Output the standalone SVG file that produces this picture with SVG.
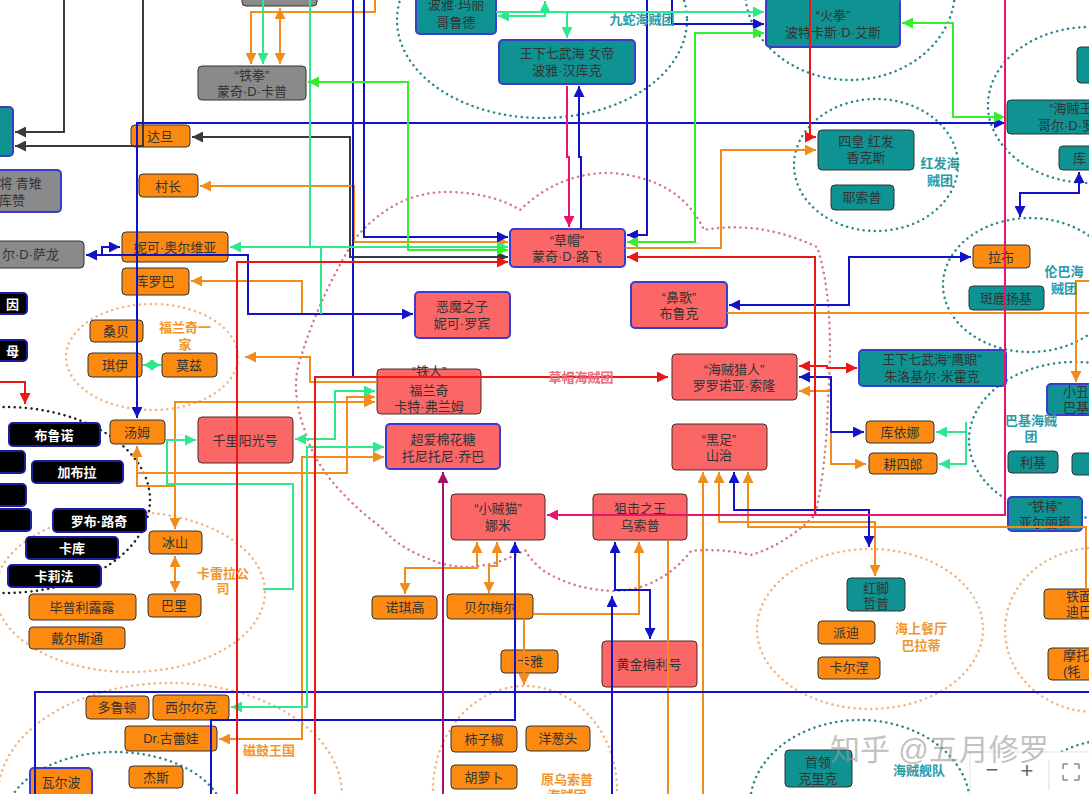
<svg xmlns="http://www.w3.org/2000/svg" width="1089" height="794" viewBox="0 0 1089 794">
<defs>
<style>
text{font-family:"Liberation Sans","Noto Sans CJK SC",sans-serif;font-size:13px;fill:#333;text-anchor:middle}
.w{fill:#fff;font-weight:bold}
.lb{font-weight:bold}
.lt{fill:#2a9aa8;font-weight:bold}
.lo{fill:#f0962e;font-weight:bold}
.lp{fill:#e8707a;font-weight:bold}
.s{fill:#fb6767;stroke:#4a2a2a;stroke-width:1}
.sb{fill:#fb6767;stroke:#3b3bd0;stroke-width:2}
.t{fill:#0f9292;stroke:#333;stroke-width:1}
.tb{fill:#0f9292;stroke:#3b3bd0;stroke-width:2}
.o{fill:#fd8a10;stroke:#333;stroke-width:1}
.ob{fill:#fd8a10;stroke:#3b3bd0;stroke-width:2}
.g{fill:#8a8a8a;stroke:#333;stroke-width:1}
.gb{fill:#8a8a8a;stroke:#3b3bd0;stroke-width:2}
.k{fill:#000;stroke:#1c1ca0;stroke-width:2}
.c{fill:none;stroke-width:2}
.cb{stroke:#1212c8}.co{stroke:#f28c1c}.cg{stroke:#2de88c}.cl{stroke:#35ee2a}.cr{stroke:#ee1515}.cd{stroke:#3a3a3a}.cp{stroke:#e8146e}.cu{stroke:#a3106c}
.e{fill:none;stroke-width:2.5;stroke-dasharray:0.1 5.5;stroke-linecap:round}
.et{stroke:#2b8890}.eo{stroke:#f0b483}.er{stroke:#d87880}.ek{stroke:#222}
</style>
<marker id="ab" viewBox="0 0 10 10" refX="10" refY="5" markerWidth="11" markerHeight="11" markerUnits="userSpaceOnUse" orient="auto-start-reverse"><path d="M0,0L10,5L0,10z" fill="#1212c8"/></marker>
<marker id="ao" viewBox="0 0 10 10" refX="10" refY="5" markerWidth="11" markerHeight="11" markerUnits="userSpaceOnUse" orient="auto-start-reverse"><path d="M0,0L10,5L0,10z" fill="#f28c1c"/></marker>
<marker id="ag" viewBox="0 0 10 10" refX="10" refY="5" markerWidth="11" markerHeight="11" markerUnits="userSpaceOnUse" orient="auto-start-reverse"><path d="M0,0L10,5L0,10z" fill="#2de88c"/></marker>
<marker id="al" viewBox="0 0 10 10" refX="10" refY="5" markerWidth="11" markerHeight="11" markerUnits="userSpaceOnUse" orient="auto-start-reverse"><path d="M0,0L10,5L0,10z" fill="#35ee2a"/></marker>
<marker id="ar" viewBox="0 0 10 10" refX="10" refY="5" markerWidth="11" markerHeight="11" markerUnits="userSpaceOnUse" orient="auto-start-reverse"><path d="M0,0L10,5L0,10z" fill="#ee1515"/></marker>
<marker id="ad" viewBox="0 0 10 10" refX="10" refY="5" markerWidth="11" markerHeight="11" markerUnits="userSpaceOnUse" orient="auto-start-reverse"><path d="M0,0L10,5L0,10z" fill="#3a3a3a"/></marker>
<marker id="ap" viewBox="0 0 10 10" refX="10" refY="5" markerWidth="11" markerHeight="11" markerUnits="userSpaceOnUse" orient="auto-start-reverse"><path d="M0,0L10,5L0,10z" fill="#e8146e"/></marker>
<marker id="au" viewBox="0 0 10 10" refX="10" refY="5" markerWidth="11" markerHeight="11" markerUnits="userSpaceOnUse" orient="auto-start-reverse"><path d="M0,0L10,5L0,10z" fill="#a3106c"/></marker>
</defs>
<rect width="1089" height="794" fill="#fff"/>

<g id="clusters">
<ellipse class="e et" cx="542" cy="20" rx="145" ry="98"/>
<ellipse class="e et" cx="850" cy="-10" rx="105" ry="90"/>
<ellipse class="e et" cx="876" cy="165" rx="82" ry="66"/>
<ellipse class="e et" cx="1090" cy="105" rx="102" ry="78"/>
<ellipse class="e et" cx="1030" cy="285" rx="87" ry="67"/>
<ellipse class="e et" cx="1075" cy="440" rx="106" ry="78"/>
<ellipse class="e eo" cx="152" cy="357" rx="86" ry="53"/>
<ellipse class="e ek" cx="5" cy="500" rx="145" ry="93"/>
<ellipse class="e eo" cx="130" cy="592" rx="135" ry="80"/>
<ellipse class="e eo" cx="170" cy="795" rx="172" ry="112"/>
<ellipse class="e et" cx="115" cy="820" rx="110" ry="68"/>
<ellipse class="e eo" cx="525" cy="790" rx="92" ry="104"/>
<ellipse class="e eo" cx="870" cy="629" rx="113" ry="80"/>
<ellipse class="e eo" cx="1095" cy="630" rx="90" ry="82"/>
<ellipse class="e et" cx="860" cy="805" rx="110" ry="85"/>
<ellipse class="e et" cx="1110" cy="835" rx="100" ry="95"/>
<path class="e er" d="M354,240 Q395,190 452,192 Q495,194 520,210 Q560,172 611,173 Q680,178 704,230 Q760,220 817,247 Q835,300 828,400 Q826,470 815,515 Q785,545 751,555 Q720,548 691,551 Q660,590 614,591 Q575,590 544,571 Q532,562 525,550 Q480,575 440,563 Q400,550 382,528 Q318,480 305,431 Q290,390 300,360 Q318,300 354,240 Z"/>
</g>

<g id="nodes">
<g id="n-gtop"><rect class="g" x="242" y="-20" width="75" height="26" rx="4"/></g>
<g id="n-garp"><rect class="g" x="198" y="66" width="108" height="34" rx="4"/><text x="252" y="80">“铁拳”</text><text x="252" y="96">蒙奇·D·卡普</text></g>
<g id="n-aokiji"><rect class="gb" x="-40" y="170" width="101" height="42" rx="4"/><text x="14" y="188">大将 青雉</text><text x="12" y="205">库赞</text></g>
<g id="n-salon"><rect class="g" x="-30" y="241" width="114" height="27" rx="4"/><text x="59" y="259" style="text-anchor:end">尔·D·萨龙</text></g>
<g id="n-tleft"><rect class="tb" x="-20" y="107" width="33" height="49" rx="4"/></g>
<g id="n-marigold"><rect class="tb" x="416" y="-12" width="80" height="46" rx="4"/><text x="456" y="9">波雅·玛丽</text><text x="456" y="27">哥鲁德</text></g>
<g id="n-hancock"><rect class="tb" x="499" y="40" width="136" height="44" rx="4"/><text x="567" y="58">王下七武海 女帝</text><text x="567" y="75">波雅·汉库克</text></g>
<g id="n-ace"><rect class="tb" x="766" y="-2" width="134" height="49" rx="4"/><text x="833" y="20">“火拳”</text><text x="833" y="37">波特卡斯·D·艾斯</text></g>
<g id="n-shanks"><rect class="t" x="818" y="130" width="96" height="40" rx="4"/><text x="866" y="146">四皇 红发</text><text x="866" y="162">香克斯</text></g>
<g id="n-yasopp"><rect class="t" x="831" y="185" width="63" height="25" rx="4"/><text x="862" y="202">耶索普</text></g>
<g id="n-roger"><rect class="t" x="1007" y="100" width="100" height="34" rx="4"/><text x="1073" y="113">“海贼王”</text><text x="1073" y="130">哥尔·D·罗杰</text></g>
<g id="n-ttop"><rect class="t" x="1077" y="47" width="30" height="36" rx="4"/></g>
<g id="n-ku"><rect class="t" x="1059" y="146" width="40" height="24" rx="4"/><text x="1073" y="163" style="text-anchor:start">库</text></g>
<g id="n-yankee"><rect class="t" x="969" y="286" width="75" height="24" rx="4"/><text x="1006" y="303">斑鹿扬基</text></g>
<g id="n-mihawk"><rect class="tb" x="859" y="350" width="147" height="36" rx="4"/><text x="932" y="364">王下七武海“鹰眼”</text><text x="932" y="381">朱洛基尔·米霍克</text></g>
<g id="n-buggy"><rect class="tb" x="1047" y="384" width="60" height="31" rx="4"/><text x="1063" y="396" style="text-anchor:start">小丑</text><text x="1063" y="412" style="text-anchor:start">巴基</text></g>
<g id="n-ricchi"><rect class="t" x="1008" y="451" width="50" height="22" rx="4"/><text x="1033" y="467">利基</text></g>
<g id="n-tr2"><rect class="t" x="1072" y="453" width="30" height="22" rx="4"/></g>
<g id="n-alvida"><rect class="tb" x="1008" y="497" width="74" height="34" rx="4"/><text x="1045" y="511">“铁棒”</text><text x="1045" y="527">亚尔丽塔</text></g>
<g id="n-zeff"><rect class="t" x="847" y="578" width="58" height="33" rx="4"/><text x="876" y="593">红脚</text><text x="876" y="608">哲普</text></g>
<g id="n-krieg"><rect class="t" x="785" y="750" width="67" height="37" rx="4"/><text x="818" y="767">首领</text><text x="818" y="783">克里克</text></g>

<g id="n-dadan"><rect class="o" x="131" y="125" width="59" height="22" rx="4"/><text x="160" y="141">达旦</text></g>
<g id="n-chief"><rect class="o" x="139" y="174" width="59" height="23" rx="4"/><text x="168" y="191">村长</text></g>
<g id="n-olvia"><rect class="o" x="122" y="232" width="106" height="30" rx="4"/><text x="175" y="252">妮可·奥尔维亚</text></g>
<g id="n-kokoro"><rect class="o" x="122" y="268" width="67" height="27" rx="4"/><text x="155" y="286">库罗巴</text></g>
<g id="n-zambai"><rect class="o" x="90" y="320" width="53" height="22" rx="4"/><text x="116" y="336">桑贝</text></g>
<g id="n-kiwi"><rect class="o" x="88" y="353" width="54" height="24" rx="4"/><text x="115" y="370">琪伊</text></g>
<g id="n-mozu"><rect class="o" x="162" y="353" width="55" height="24" rx="4"/><text x="189" y="370">莫兹</text></g>
<g id="n-tom"><rect class="o" x="110" y="420" width="55" height="24" rx="4"/><text x="137" y="437">汤姆</text></g>
<g id="n-iceburg"><rect class="o" x="149" y="531" width="53" height="23" rx="4"/><text x="175" y="547">冰山</text></g>
<g id="n-paulie"><rect class="o" x="148" y="594" width="53" height="23" rx="4"/><text x="174" y="610">巴里</text></g>
<g id="n-lulu"><rect class="o" x="29" y="594" width="107" height="26" rx="4"/><text x="82" y="612">毕普利露露</text></g>
<g id="n-tilestone"><rect class="o" x="29" y="627" width="96" height="22" rx="4"/><text x="77" y="643">戴尔斯通</text></g>
<g id="n-dalton"><rect class="o" x="86" y="696" width="63" height="23" rx="4"/><text x="117" y="712">多鲁顿</text></g>
<g id="n-hiluluk"><rect class="o" x="153" y="695" width="76" height="25" rx="4"/><text x="191" y="712">西尔尔克</text></g>
<g id="n-kureha"><rect class="o" x="125" y="726" width="92" height="25" rx="4"/><text x="171" y="743">Dr.古蕾娃</text></g>
<g id="n-wapol"><rect class="ob" x="30" y="768" width="62" height="30" rx="4"/><text x="61" y="787">瓦尔波</text></g>
<g id="n-chess"><rect class="o" x="129" y="766" width="54" height="22" rx="4"/><text x="156" y="782">杰斯</text></g>
<g id="n-nojiko"><rect class="o" x="372" y="596" width="65" height="23" rx="4"/><text x="405" y="612">诺琪高</text></g>
<g id="n-bellemere"><rect class="o" x="447" y="594" width="86" height="25" rx="4"/><text x="490" y="612">贝尔梅尔</text></g>
<g id="n-kaya"><rect class="o" x="501" y="650" width="57" height="23" rx="4"/><text x="530" y="666">卡雅</text></g>
<g id="n-pepper"><rect class="o" x="451" y="726" width="66" height="26" rx="4"/><text x="484" y="744">柿子椒</text></g>
<g id="n-onion"><rect class="o" x="526" y="726" width="64" height="25" rx="4"/><text x="558" y="743">洋葱头</text></g>
<g id="n-carrot"><rect class="o" x="451" y="765" width="66" height="24" rx="4"/><text x="484" y="782">胡萝卜</text></g>
<g id="n-kuina"><rect class="o" x="866" y="421" width="68" height="22" rx="4"/><text x="900" y="437">库依娜</text></g>
<g id="n-koshiro"><rect class="o" x="869" y="453" width="68" height="21" rx="4"/><text x="903" y="469">耕四郎</text></g>
<g id="n-laboon"><rect class="o" x="973" y="245" width="57" height="23" rx="4"/><text x="1001" y="262">拉布</text></g>
<g id="n-patty"><rect class="o" x="818" y="621" width="57" height="23" rx="4"/><text x="846" y="637">派迪</text></g>
<g id="n-carne"><rect class="o" x="818" y="657" width="62" height="22" rx="4"/><text x="849" y="672">卡尔涅</text></g>
<g id="n-gin"><rect class="o" x="1044" y="589" width="60" height="30" rx="4"/><text x="1066" y="601" style="text-anchor:start">铁面</text><text x="1066" y="616" style="text-anchor:start">迪巴</text></g>
<g id="n-mohji"><rect class="o" x="1048" y="648" width="70" height="32" rx="4"/><text x="1063" y="660" style="text-anchor:start">摩托</text><text x="1063" y="676" style="text-anchor:start">(牦</text></g>

<g id="n-k1"><rect class="k" x="-20" y="293" width="47" height="21" rx="4"/><text class="w" x="19" y="309" style="text-anchor:end">因</text></g>
<g id="n-k2"><rect class="k" x="-20" y="340" width="47" height="21" rx="4"/><text class="w" x="19" y="356" style="text-anchor:end">母</text></g>
<g id="n-bruno"><rect class="k" x="9" y="423" width="91" height="23" rx="4"/><text class="w" x="54" y="440">布鲁诺</text></g>
<g id="n-k3"><rect class="k" x="-20" y="451" width="45" height="22" rx="4"/></g>
<g id="n-jabra"><rect class="k" x="32" y="461" width="91" height="22" rx="4"/><text class="w" x="77" y="477">加布拉</text></g>
<g id="n-k4"><rect class="k" x="-20" y="484" width="46" height="22" rx="4"/></g>
<g id="n-k5"><rect class="k" x="-20" y="509" width="51" height="22" rx="4"/></g>
<g id="n-lucci"><rect class="k" x="53" y="509" width="93" height="23" rx="4"/><text class="w" x="99" y="526">罗布·路奇</text></g>
<g id="n-kaku"><rect class="k" x="26" y="537" width="92" height="22" rx="4"/><text class="w" x="72" y="553">卡库</text></g>
<g id="n-kalifa"><rect class="k" x="8" y="565" width="93" height="22" rx="4"/><text class="w" x="54" y="581">卡莉法</text></g>

<g id="n-luffy"><rect class="sb" x="510" y="229" width="115" height="38" rx="4"/><text x="567" y="245">“草帽”</text><text x="567" y="261">蒙奇·D·路飞</text></g>
<g id="n-robin"><rect class="sb" x="415" y="292" width="95" height="46" rx="4"/><text x="462" y="311">恶魔之子</text><text x="462" y="328">妮可·罗宾</text></g>
<g id="n-franky"><rect class="s" x="377" y="369" width="104" height="45" rx="4"/><text x="429" y="376">“铁人”</text><text x="429" y="395">福兰奇</text><text x="429" y="411">卡特·弗兰姆</text></g>
<g id="n-chopper"><rect class="sb" x="386" y="424" width="114" height="45" rx="4"/><text x="443" y="444">超爱棉花糖</text><text x="443" y="461">托尼托尼·乔巴</text></g>
<g id="n-sunny"><rect class="s" x="198" y="417" width="95" height="46" rx="4"/><text x="245" y="445">千里阳光号</text></g>
<g id="n-nami"><rect class="s" x="451" y="494" width="94" height="46" rx="4"/><text x="498" y="513">“小贼猫”</text><text x="498" y="530">娜米</text></g>
<g id="n-usopp"><rect class="s" x="593" y="494" width="94" height="46" rx="4"/><text x="640" y="513">狙击之王</text><text x="640" y="530">乌索普</text></g>
<g id="n-brook"><rect class="sb" x="631" y="282" width="96" height="46" rx="4"/><text x="679" y="302">“鼻歌”</text><text x="679" y="318">布鲁克</text></g>
<g id="n-zoro"><rect class="s" x="672" y="354" width="125" height="46" rx="4"/><text x="734" y="374">“海贼猎人”</text><text x="734" y="390">罗罗诺亚·索隆</text></g>
<g id="n-sanji"><rect class="s" x="672" y="424" width="95" height="46" rx="4"/><text x="719" y="444">“黑足”</text><text x="719" y="460">山治</text></g>
<g id="n-merry"><rect class="s" x="602" y="641" width="95" height="46" rx="4"/><text x="649" y="669">黄金梅利号</text></g>
</g>

<g id="connectors">
<path class="c cd" d="M64,0V132H15" marker-end="url(#ad)"/>
<path class="c cd" d="M143,0V146H15" marker-end="url(#ad)"/>
<path class="c cd" d="M192,137H350V257H508" marker-start="url(#ad)" marker-end="url(#ad)"/>

<path class="c co" d="M375,0V12H251V64" marker-end="url(#ao)"/>
<path class="c co" d="M280,8V64" marker-start="url(#ao)" marker-end="url(#ao)"/>
<path class="c co" d="M200,186H354V242H508" marker-start="url(#ao)" marker-end="url(#ao)"/>
<path class="c co" d="M625,248H721V150H816" marker-end="url(#ao)"/>
<path class="c co" d="M191,281H302V314" marker-start="url(#ao)"/>
<path class="c co" d="M245,357H310V382H377" marker-start="url(#ao)"/>
<path class="c co" d="M137,446V486H175V402H375" marker-start="url(#ao)" marker-end="url(#ao)"/>
<path class="c co" d="M175,486V529" marker-end="url(#ao)"/>
<path class="c co" d="M137,473H347V397H375" marker-end="url(#ao)"/>
<path class="c co" d="M175,556V592" marker-start="url(#ao)" marker-end="url(#ao)"/>
<path class="c co" d="M384,457H302V739H219" marker-start="url(#ao)" marker-end="url(#ao)"/>
<path class="c co" d="M477,542V568H405V594" marker-start="url(#ao)" marker-end="url(#ao)"/>
<path class="c co" d="M497,542V566H489V593" marker-start="url(#ao)" marker-end="url(#ao)"/>
<path class="c co" d="M533,614H639V542" marker-end="url(#ao)"/>
<path class="c co" d="M524,619V685" marker-end="url(#ao)"/>
<path class="c co" d="M668,540V794"/>
<path class="c co" d="M703,472V794" marker-start="url(#ao)"/>
<path class="c co" d="M719,472V522H875V576" marker-start="url(#ao)" marker-end="url(#ao)"/>
<path class="c co" d="M748,472V527H1086V589" marker-start="url(#ao)"/>
<path class="c co" d="M727,313H1089"/>
<path class="c co" d="M1089,281H1076V382" marker-end="url(#ao)"/>
<path class="c co" d="M799,391H831V464H866" marker-start="url(#ao)" marker-end="url(#ao)"/>

<path class="c cb" d="M137,418V123H1005" marker-start="url(#ab)" marker-end="url(#ab)"/>
<path class="c cb" d="M364,0V237H508" marker-end="url(#ab)"/>
<path class="c cb" d="M353,0V377"/>
<path class="c cb" d="M86,255H248V314H413" marker-start="url(#ab)" marker-end="url(#ab)"/>
<path class="c cb" d="M102,255V247H120" marker-end="url(#ab)"/>
<path class="c cb" d="M581,229V157H579V86" marker-end="url(#ab)"/>
<path class="c cb" d="M647,0V235H627" marker-end="url(#ab)"/>
<path class="c cb" d="M672,0V24H764" marker-end="url(#ab)"/>
<path class="c cb" d="M729,305H849V257H971" marker-start="url(#ab)" marker-end="url(#ab)"/>
<path class="c cb" d="M1079,172V193H1020V217" marker-start="url(#ab)" marker-end="url(#ab)"/>
<path class="c cb" d="M799,377H831V432H864" marker-start="url(#ab)" marker-end="url(#ab)"/>
<path class="c cb" d="M734,472V510H869V547" marker-start="url(#ab)" marker-end="url(#ab)"/>
<path class="c cb" d="M35,794V692H1089"/>
<path class="c cb" d="M211,794V720H515V542" marker-end="url(#ab)"/>
<path class="c cb" d="M615,542V590H650V639" marker-start="url(#ab)" marker-end="url(#ab)"/>
<path class="c cb" d="M612,794V596" marker-end="url(#ab)"/>

<path class="c cg" d="M263,0V64" marker-end="url(#ag)"/>
<path class="c cg" d="M310,0V247H508" marker-end="url(#ag)"/>
<path class="c cg" d="M230,247H321V314" marker-start="url(#ag)"/>
<path class="c cg" d="M196,440H167V484H293V589H263" marker-start="url(#ag)"/>
<path class="c cg" d="M295,439H335V391H375" marker-start="url(#ag)" marker-end="url(#ag)"/>
<path class="c cg" d="M231,707H307V447H384" marker-start="url(#ag)" marker-end="url(#ag)"/>
<path class="c cg" d="M143,365H161" marker-start="url(#ag)" marker-end="url(#ag)"/>
<path class="c cg" d="M496,12H764" marker-end="url(#ag)"/>
<path class="c cg" d="M567,12V38" marker-end="url(#ag)"/>
<path class="c cg" d="M498,16H545V1" marker-start="url(#ag)" marker-end="url(#ag)"/>
<path class="c cg" d="M936,432H966V422M966,432V464H939" marker-start="url(#ag)" marker-end="url(#ag)"/>

<path class="c cl" d="M308,82H408V250H508" marker-start="url(#al)" marker-end="url(#al)"/>
<path class="c cl" d="M764,33H695V242H627" marker-start="url(#al)" marker-end="url(#al)"/>
<path class="c cl" d="M902,23H953V117H1005" marker-start="url(#al)" marker-end="url(#al)"/>

<path class="c cr" d="M508,262H237V794" marker-start="url(#ar)"/>
<path class="c cr" d="M315,794V377H668" marker-end="url(#ar)"/>
<path class="c cr" d="M627,257H815V515" marker-start="url(#ar)"/>
<path class="c cr" d="M810,0V137H816" marker-end="url(#ar)"/>
<path class="c cr" d="M799,366H827V368H857" marker-start="url(#ar)" marker-end="url(#ar)"/>
<path class="c cr" d="M0,382H25V404" marker-end="url(#ar)"/>

<path class="c cp" d="M1005,0V515H547" marker-end="url(#ap)"/>
<path class="c cp" d="M567,86V157H569V227" marker-end="url(#ap)"/>
<path class="c cu" d="M443,794V472" marker-end="url(#au)"/>
</g>

<g id="labels">
<text class="lt" x="642" y="24">九蛇海贼团</text>
<text class="lt" x="940" y="168">红发海</text><text class="lt" x="940" y="185">贼团</text>
<text class="lt" x="1064" y="276">伦巴海</text><text class="lt" x="1064" y="293">贼团</text>
<text class="lt" x="1031" y="425">巴基海贼</text><text class="lt" x="1031" y="441">团</text>
<text class="lo" x="185" y="332">福兰奇一</text><text class="lo" x="185" y="349">家</text>
<text class="lo" x="223" y="578">卡雷拉公</text><text class="lo" x="223" y="593">司</text>
<text class="lo" x="269" y="755">磁鼓王国</text>
<text class="lp" x="581" y="382">草帽海贼团</text>
<text class="lo" x="567" y="784">原乌索普</text><text class="lo" x="567" y="800">海贼团</text>
<text class="lo" x="921" y="633">海上餐厅</text><text class="lo" x="921" y="650">巴拉蒂</text>
<text class="lt" x="919" y="775">海贼舰队</text>
</g>

<g id="overlay">
<rect x="970" y="752" width="125" height="50" fill="#fff" stroke="#e2e2e2"/>
<line x1="1049" y1="760" x2="1049" y2="790" stroke="#ddd"/>
<text x="992" y="777" style="font-size:22px;fill:#666">−</text>
<text x="1027" y="778" style="font-size:22px;fill:#666">+</text>
<path d="M1063,764h5M1063,764v5M1079,764h-5M1079,764v5M1063,780h5M1063,780v-5M1079,780h-5M1079,780v-5" stroke="#888" stroke-width="1.5" fill="none"/>
<text x="830" y="760" style="font-size:30px;fill:#9a9a9a;opacity:0.6;text-anchor:start">知乎 @五月修罗</text>
</g>
</svg>
